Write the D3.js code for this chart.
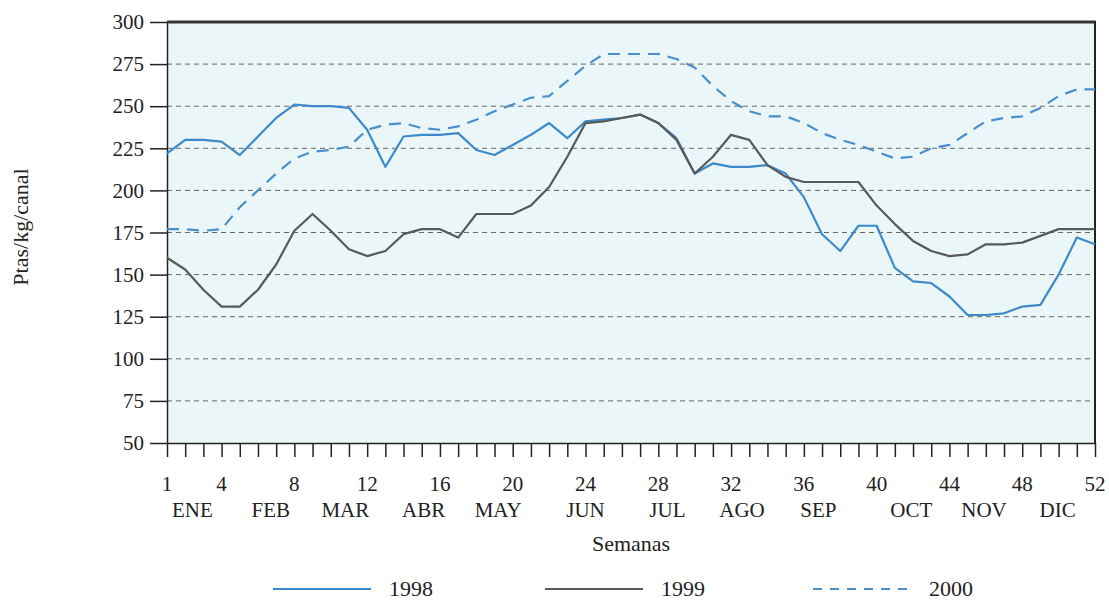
<!DOCTYPE html>
<html>
<head>
<meta charset="utf-8">
<script src="https://cdn.jsdelivr.net/npm/d3@7"></script>
<style>
    body { margin: 0; background: #fff; }
    svg text { font-family: "Liberation Serif", "Times New Roman", serif; fill: #222; }
</style>
</head>
<body>
<div id="chart"></div>
<script>
var weeks = [1, 2, 3, 4, 5, 6, 7, 8, 9, 10, 11, 12, 13, 14, 15, 16, 17, 18, 19, 20, 21, 22, 23, 24, 25, 26,
    27, 28, 29, 30, 31, 32, 33, 34, 35, 36, 37, 38, 39, 40, 41, 42, 43, 44, 45, 46, 47, 48, 49, 50, 51, 52];

var s1998 = [222, 230, 230, 229, 221, 232, 243, 251, 250, 250, 249, 236, 214, 232, 233, 233, 234, 224, 221, 227,
    233, 240, 231, 241, 242, 243, 245, 240, 231, 210, 216, 214, 214, 215, 210, 196, 174, 164, 179, 179,
    154, 146, 145, 137, 126, 126, 127, 131, 132, 150, 172, 168];

var s1999 = [160, 153, 141, 131, 131, 141, 156, 176, 186, 176, 165, 161, 164, 174, 177, 177, 172, 186, 186, 186,
    191, 202, 220, 240, 241, 243, 245, 240, 230, 210, 220, 233, 230, 215, 208, 205, 205, 205, 205, 191,
    180, 170, 164, 161, 162, 168, 168, 169, 173, 177, 177, 177];

var s2000 = [177, 177, 176, 177, 190, 200, 210, 219, 223, 224, 226, 236, 239, 240, 237, 236, 238, 242, 247, 251,
    255, 256, 265, 274, 281, 281, 281, 281, 278, 273, 262, 253, 247, 244, 244, 240, 234, 230, 227, 223,
    219, 220, 225, 227, 234, 241, 243, 244, 249, 256, 260, 260];

var yTicks = [50, 75, 100, 125, 150, 175, 200, 225, 250, 275, 300];
var xLabelWeeks = [1, 4, 8, 12, 16, 20, 24, 28, 32, 36, 40, 44, 48, 52];
var months = ["ENE", "FEB", "MAR", "ABR", "MAY", "JUN", "JUL", "AGO", "SEP", "OCT", "NOV", "DIC"];
var monthWeeks = [2.4, 6.7, 10.8, 15.1, 19.2, 24.0, 28.5, 32.6, 36.8, 41.9, 45.9, 49.95];
var seriesNames = ["1998", "1999", "2000"];

var width = 1109, height = 600;
var plotLeft = 167, plotRight = 1095, plotTop = 22, plotBottom = 443;
var serif = '"Liberation Serif", "Times New Roman", serif';

var x = d3.scaleLinear().domain([1, 52]).range([plotLeft, plotRight]);
var y = d3.scaleLinear().domain([50, 300]).range([plotBottom, plotTop]);

var svg = d3.select("#chart").append("svg")
    .attr("width", width)
    .attr("height", height);

svg.append("rect")
    .attr("x", plotLeft).attr("y", plotTop)
    .attr("width", plotRight - plotLeft).attr("height", plotBottom - plotTop)
    .style("fill", "#eaf6f8");

svg.append("g").selectAll("line")
    .data(yTicks.filter(function (v) { return v > 50 && v < 300; }))
    .enter().append("line")
    .attr("x1", plotLeft).attr("x2", plotRight)
    .attr("y1", function (d) { return y(d); })
    .attr("y2", function (d) { return y(d); })
    .style("stroke", "#444")
    .style("stroke-width", 1)
    .style("stroke-dasharray", "5,4")
    .style("opacity", 0.8);

var yAxis = svg.append("g")
    .attr("transform", "translate(" + plotLeft + ",0)")
    .attr("font-family", serif)
    .call(d3.axisLeft(y).tickValues(yTicks).tickSize(17).tickSizeOuter(0).tickPadding(6));
yAxis.attr("font-family", serif);
yAxis.selectAll("line, path").style("stroke", "#222").style("stroke-width", 1.5);
yAxis.selectAll("text")
    .style("font-family", serif)
    .style("font-size", "21px")
    .style("fill", "#222");

var xAxis = svg.append("g")
    .attr("transform", "translate(0," + plotBottom + ")")
    .call(d3.axisBottom(x).tickValues(weeks).tickSize(14).tickSizeOuter(0).tickFormat(""));
xAxis.selectAll("line, path").style("stroke", "#222").style("stroke-width", 1.5);

svg.append("g").selectAll("text")
    .data(xLabelWeeks)
    .enter().append("text")
    .attr("x", function (d) { return x(d); })
    .attr("y", 491)
    .attr("text-anchor", "middle")
    .style("font-size", "21px")
    .text(function (d) { return d; });

svg.append("g").selectAll("text")
    .data(months)
    .enter().append("text")
    .attr("x", function (d, i) { return x(monthWeeks[i]); })
    .attr("y", 517)
    .attr("text-anchor", "middle")
    .style("font-size", "21px")
    .text(function (d) { return d; });

svg.append("text")
    .attr("x", 631).attr("y", 551)
    .attr("text-anchor", "middle")
    .style("font-size", "22px")
    .text("Semanas");

svg.append("text")
    .attr("transform", "translate(28,227) rotate(-90)")
    .attr("text-anchor", "middle")
    .style("font-size", "22px")
    .text("Ptas/kg/canal");

// frame: heavy top edge and right edge
svg.append("line")
    .attr("x1", plotLeft).attr("x2", plotRight + 1)
    .attr("y1", plotTop).attr("y2", plotTop)
    .style("stroke", "#333").style("stroke-width", 3);
svg.append("line")
    .attr("x1", plotRight).attr("x2", plotRight)
    .attr("y1", plotTop).attr("y2", plotBottom)
    .style("stroke", "#222").style("stroke-width", 2);

var styles = [
    { color: "#3d8acb", dash: null },
    { color: "#595959", dash: null },
    { color: "#4a8fca", dash: "12,8" }
];
var allSeries = [s1998, s1999, s2000];

var line = d3.line()
    .x(function (d, i) { return x(weeks[i]); })
    .y(function (d) { return y(d); });

svg.append("g").selectAll("path")
    .data(allSeries)
    .enter().append("path")
    .attr("d", line)
    .style("fill", "none")
    .style("stroke", function (d, i) { return styles[i].color; })
    .style("stroke-width", 2.2)
    .style("stroke-dasharray", function (d, i) { return styles[i].dash; })
    .style("stroke-linejoin", "round");

var legendX = [273, 545, 813];
var legend = svg.append("g").selectAll("g")
    .data(seriesNames)
    .enter().append("g")
    .attr("transform", function (d, i) { return "translate(" + legendX[i] + ",589)"; });

legend.append("line")
    .attr("x1", 0).attr("x2", 98)
    .attr("y1", 0).attr("y2", 0)
    .style("stroke", function (d, i) { return styles[i].color; })
    .style("stroke-width", 2)
    .style("stroke-dasharray", function (d, i) { return i === 2 ? "9,8" : null; });

legend.append("text")
    .attr("x", 116).attr("y", 7)
    .style("font-size", "22px")
    .text(function (d) { return d; });
</script>
</body>
</html>
